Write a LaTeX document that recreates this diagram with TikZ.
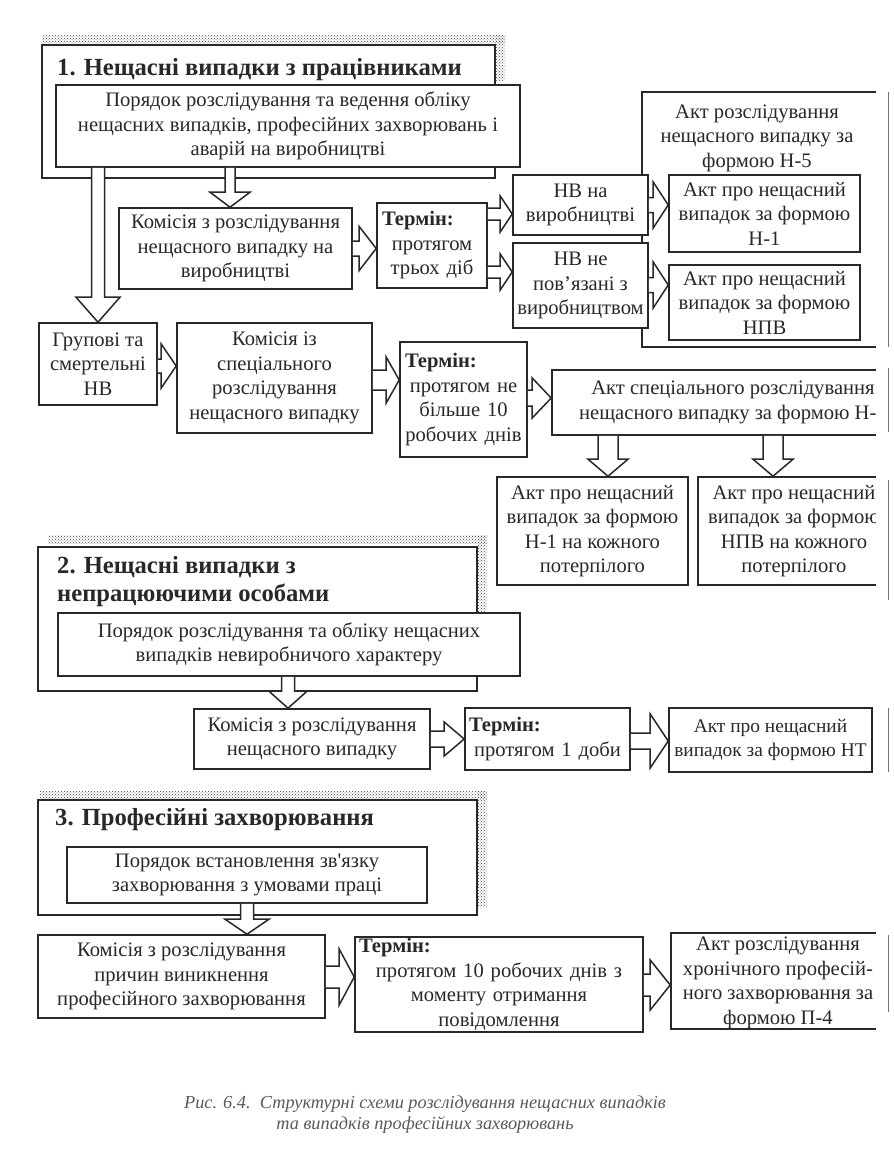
\documentclass[tikz,border=0pt]{standalone}
\usepackage{fontspec}
\setmainfont{Liberation Serif}
\usetikzlibrary{calc,patterns}
\definecolor{ink}{RGB}{40,40,40}
\newcommand\bodyf{\fontsize{20.6}{24.5}\selectfont}
\newcommand\ttlf{\fontsize{24.6}{28}\selectfont\bfseries}
\newcommand\capf{\fontsize{18.3}{21}\selectfont\itshape}
\newcommand\sq{{\addfontfeatures{Ligatures=TeXOff}'}}
\tikzset{
 box/.style={draw=ink, line width=1.6pt, fill=white, align=center, inner sep=0pt, text=ink, font=\bodyf},
 outerbox/.style={draw=ink, line width=1.8pt, fill=white, inner sep=0pt},
 barrow/.style={draw=ink, fill=white, line width=1.5pt, line join=miter},
 band/.style={pattern=crosshatch dots, pattern color=black!75},
 ttl/.style={inner sep=0pt, text=ink, font=\ttlf, align=left},
 artline/.style={draw=black!55, line width=1pt},
}
\newcommand\bx[7][]{\node[box,#1, minimum width={(#5-#3)*1pt}, minimum height={(#6-#4)*1pt}] (#2) at ({(#3+#5)/2},{(#4+#6)/2}) {#7};}
\newcommand\ob[5]{\node[outerbox, minimum width={(#4-#2)*1pt}, minimum height={(#5-#3)*1pt}] (#1) at ({(#2+#4)/2},{(#3+#5)/2}) {};}
\newcommand\arrR[5]{\path[barrow] let \p1=(#1), \p2=(#2) in (\x1,\y2+#3pt) -- (\x2-#5pt,\y2+#3pt) -- (\x2-#5pt,\y2+#4pt) -- (\x2,\y2) -- (\x2-#5pt,\y2-#4pt) -- (\x2-#5pt,\y2-#3pt) -- (\x1,\y2-#3pt);}
\newcommand\arrD[5]{\path[barrow] let \p1=(#1), \p2=(#2) in (\x2-#3pt,\y1) -- (\x2-#3pt,\y2+#5pt) -- (\x2-#4pt,\y2+#5pt) -- (\x2,\y2) -- (\x2+#4pt,\y2+#5pt) -- (\x2+#3pt,\y2+#5pt) -- (\x2+#3pt,\y1);}
\newcommand\term[1]{\makebox[\linewidth][l]{\bfseries Термін:}\\#1}
\begin{document}
\begin{tikzpicture}[x=1pt,y=-1pt]
\fill[white] (0,0) rectangle (894,1168);
\useasboundingbox (0,0) rectangle (894,1168);
% ---------- group 1
\fill[band] (42,35) rectangle (505,43);
\fill[band] (495,35) rectangle (505,80);
\ob{out1}{42}{45}{495}{178}
\node[ttl, anchor=base west] (title1) at (57,75) {1. Нещасні випадки з працівниками};
\bx{in1}{56}{85}{520}{167}{Порядок розслідування та ведення обліку\\нещасних випадків, професійних захворювань і\\аварій на виробництві}
\bx{komA}{119}{208}{352}{289}{Комісія з розслідування\\нещасного випадку на\\виробництві}
\bx[text width=100pt]{termA}{377}{203}{487}{288}{\term{протягом\\трьох діб}}
\bx{h5}{642}{92}{892}{347}{}
\node[inner sep=0pt, align=center, text=ink, font=\bodyf] (h5t) at (757,138) {Акт розслідування\\нещасного випадку за\\формою Н-5};
\bx{nvA}{513}{175}{648}{235}{НВ на\\виробництві}
\bx{nvB}{513}{243}{648}{328}{НВ не\\пов’язані з\\виробництвом}
\bx{aktA}{669}{175}{860}{252}{Акт про нещасний\\випадок за формою\\Н-1}
\bx{aktB}{669}{265}{860}{340}{Акт про нещасний\\випадок за формою\\НПВ}
\bx{grp}{39}{323}{157}{405}{Групові та\\смертельні\\НВ}
\bx{komB}{177}{323}{372}{433}{Комісія із\\спеціального\\розслідування\\нещасного випадку}
\bx[text width=117pt]{termB}{400}{342}{527}{457}{\term{протягом не\\більше 10\\робочих днів}}
\bx{spec}{552}{370}{914}{435}{Акт спеціального розслідування\\нещасного випадку за формою Н-5}
\bx{aktC}{497}{477}{688}{585}{Акт про нещасний\\випадок за формою\\Н-1 на кожного\\потерпілого}
\bx{aktD}{698}{477}{890}{585}{Акт про нещасний\\випадок за формою\\НПВ на кожного\\потерпілого}
\arrD{in1.south -| grp.north}{grp.north}{6.5}{22}{25}
\arrD{in1.south -| 230,0}{komA.north -| 230,0}{5}{20}{15}
\arrR{komA.east}{termA.west |- komA.east}{7.5}{22}{17}
\arrR{termA.east |- 0,214}{nvA.west |- 0,214}{6}{18}{12}
\arrR{termA.east |- 0,272}{nvB.west |- 0,272}{6}{18}{12}
\arrR{nvA.east |- 0,205}{aktA.west |- 0,205}{7.5}{23}{15}
\arrR{nvB.east |- 0,285}{aktB.west |- 0,285}{7.5}{23}{15}
\arrR{grp.east |- 0,366}{komB.west |- 0,366}{7}{22}{15}
\arrR{komB.east |- 0,380}{termB.west |- 0,380}{10}{23}{13}
\arrR{termB.east |- 0,398}{spec.west |- 0,398}{8}{20}{19}
\arrD{spec.south -| 608,0}{aktC.north -| 608,0}{10}{20}{17}
\arrD{spec.south -| 773,0}{aktD.north -| 773,0}{10}{20}{17}
% ---------- group 2
\fill[band] (48,535) rectangle (487,543);
\fill[band] (478,535) rectangle (487,613);
\ob{out2}{38}{547}{477}{691}
\node[ttl, anchor=north west] (title2) at (57,556) {2. Нещасні випадки з\\непрацюючими особами};
\bx{in2}{58}{613}{520}{676}{Порядок розслідування та обліку нещасних\\випадків невиробничого характеру}
\bx{komC}{194}{709}{430}{769}{Комісія з розслідування\\нещасного випадку}
\bx[text width=157pt]{termC}{465}{708}{630}{770}{\term{протягом 1 доби}}
\bx[font=\fontsize{19.4}{24.5}\selectfont]{aktE}{669}{708}{872}{772}{Акт про нещасний\\випадок за формою НТ}
\arrD{in2.south -| 288,0}{komC.north -| 288,0}{6.5}{19}{17}
\arrR{komC.east |- 0,739}{termC.west |- 0,739}{8}{17}{20}
\arrR{termC.east |- 0,741}{aktE.west |- 0,741}{8}{27}{18}
% ---------- group 3
\fill[band] (40,791) rectangle (487,799);
\fill[band] (478,791) rectangle (487,907);
\ob{out3}{38}{800}{477}{915}
\node[ttl, anchor=base west] (title3) at (55,825) {3. Професійні захворювання};
\bx{in3}{67}{847}{427}{903}{Порядок встановлення зв\sq язку\\захворювання з умовами праці}
\bx{komD}{38}{935}{325}{1018}{Комісія з розслідування\\причин виникнення\\професійного захворювання}
\bx[text width=280pt]{termD}{355}{937}{643}{1032}{\term{протягом 10 робочих днів з\\моменту отримання\\повідомлення}}
\bx{aktF}{671}{933}{880}{1029}{}
\node[inner sep=0pt, align=center, text=ink, font=\bodyf] (aktFt) at (778,983) {Акт розслідування\\хронічного професій-\\ного захворювання за\\формою П-4};
\arrD{in3.south -| 247,0}{komD.north -| 247,0}{6.5}{22}{15}
\arrR{komD.east |- 0,977}{termD.west |- 0,977}{11}{28}{15}
\arrR{termD.east |- 0,985}{aktF.west |- 0,985}{11}{25}{20}
% ---------- scan edge
\fill[white] (876,0) rectangle (894,1168);
\draw[artline] (888,92) -- (888,347);
\draw[artline] (888,368) -- (888,432);
\draw[artline] (888,480) -- (888,600);
\draw[artline] (888,708) -- (888,772);
\draw[artline] (888,935) -- (888,1012);
% ---------- caption
\node[inner sep=0pt, align=center, text=black!65, font=\capf] (cap) at (425,1115) {Рис. 6.4.\ \ Структурні схеми розслідування нещасних випадків\\та випадків професійних захворювань};
\end{tikzpicture}
\end{document}
